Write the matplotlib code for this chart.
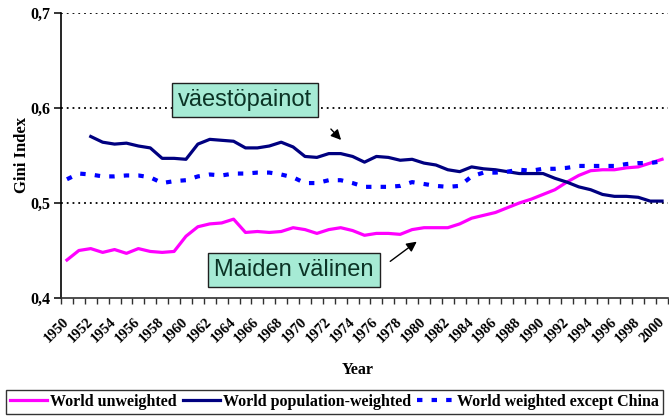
import numpy as np
import matplotlib
matplotlib.use("Agg")
import matplotlib.pyplot as plt

years = list(range(1950, 2001))

unweighted = [0.440, 0.450, 0.452, 0.448, 0.451, 0.447, 0.452, 0.449, 0.448, 0.449,
              0.465, 0.475, 0.478, 0.479, 0.483, 0.469, 0.470, 0.469, 0.470, 0.474,
              0.472, 0.468, 0.472, 0.474, 0.471, 0.466, 0.468, 0.468, 0.467, 0.472,
              0.474, 0.474, 0.474, 0.478, 0.484, 0.487, 0.490, 0.495, 0.500, 0.504,
              0.509, 0.514, 0.522, 0.529, 0.534, 0.535, 0.535, 0.537, 0.538, 0.542,
              0.546]

pop_weighted = [np.nan, np.nan, 0.570, 0.564, 0.562, 0.563, 0.560, 0.558, 0.547, 0.547,
                0.546, 0.562, 0.567, 0.566, 0.565, 0.558, 0.558, 0.560, 0.564, 0.559,
                0.549, 0.548, 0.552, 0.552, 0.549, 0.543, 0.549, 0.548, 0.545, 0.546,
                0.542, 0.540, 0.535, 0.533, 0.538, 0.536, 0.535, 0.533, 0.531, 0.531,
                0.531, 0.526, 0.522, 0.517, 0.514, 0.509, 0.507, 0.507, 0.506, 0.502,
                0.502]

except_china = [0.525, 0.531, 0.530, 0.528, 0.528, 0.529, 0.529, 0.527, 0.521, 0.523,
                0.524, 0.528, 0.530, 0.529, 0.531, 0.531, 0.532, 0.532, 0.530, 0.527,
                0.521, 0.521, 0.524, 0.524, 0.521, 0.517, 0.517, 0.517, 0.518, 0.522,
                0.520, 0.518, 0.517, 0.518, 0.528, 0.532, 0.532, 0.533, 0.535, 0.534,
                0.536, 0.536, 0.537, 0.539, 0.539, 0.539, 0.539, 0.541, 0.542, 0.542,
                0.544]

series_names = ["World unweighted", "World population-weighted", "World weighted except China"]
yticks = [0.4, 0.5, 0.6, 0.7]
ytick_labels = ["0,4", "0,5", "0,6", "0,7"]

serif = "Liberation Serif"

fig = plt.figure(figsize=(6.69, 4.16), dpi=100)
ax = fig.add_axes([61/669, 1 - 298/416, (668 - 61)/669, (298 - 13)/416])

x = np.arange(len(years))
l1, = ax.plot(x, unweighted, color="#FF00FF", lw=2.3, solid_joinstyle="round")
l2, = ax.plot(x, pop_weighted, color="#000080", lw=2.3, solid_joinstyle="round")
l3, = ax.plot(x, except_china, color="#0000FF", lw=3.0, dashes=(1.3, 2.2))

ax.set_xlim(-0.5, len(years) - 0.5)
ax.set_ylim(0.4, 0.7)

for yv in yticks[1:]:
    ax.axhline(yv, color="black", lw=1.3, ls=(0, (1, 2.2)), zorder=0.5)

ax.spines["top"].set_visible(False)
ax.spines["right"].set_visible(False)
ax.spines["left"].set_color("black")
ax.spines["bottom"].set_color("#303030")
ax.spines["left"].set_linewidth(1.2)
ax.spines["bottom"].set_linewidth(1.2)

ax.set_yticks(yticks)
ax.set_yticklabels(ytick_labels, fontfamily=serif, fontweight="bold", fontsize=11.5)
ax.tick_params(axis="y", direction="out", length=5, width=1.1, pad=3)

ax.set_xticks(x[::2])
ax.set_xticklabels([str(y) for y in years[::2]], rotation=45, ha="right", va="center",
                   rotation_mode="anchor", fontfamily=serif, fontweight="bold", fontsize=10.5)
ax.tick_params(axis="x", which="major", length=0, pad=16)
ax.set_xticks(np.arange(-0.5, len(years), 1), minor=True)
ax.tick_params(axis="x", which="minor", direction="out", length=4, width=1, color="#303030")

fig.text(22/669, 1 - 155/416, "Gini Index", rotation=90, ha="center", va="center",
         fontfamily=serif, fontweight="bold", fontsize=12)
fig.text(358/669, 1 - 370/416, "Year", ha="center", va="center",
         fontfamily=serif, fontweight="bold", fontsize=11.5)

box_kw = dict(boxstyle="square,pad=0.25", facecolor="#A6EBD5", edgecolor="#202020", lw=1.0)
fig.text(245/669, 1 - 100/416, "väestöpainot", ha="center", va="center",
         fontfamily="Liberation Sans", fontsize=17, color="#0B3325", bbox=box_kw)
fig.text(294/669, 1 - 270/416, "Maiden välinen", ha="center", va="center",
         fontfamily="Liberation Sans", fontsize=17, color="#0B3325", bbox=box_kw)

arrow_kw = dict(arrowstyle="-|>,head_length=0.6,head_width=0.3", color="black", lw=1.0)
ax.annotate("", xy=(343/669, 1 - 142/416), xytext=(329/669, 1 - 127/416),
            xycoords="figure fraction", textcoords="figure fraction", arrowprops=arrow_kw)
ax.annotate("", xy=(419/669, 1 - 240/416), xytext=(388/669, 1 - 263/416),
            xycoords="figure fraction", textcoords="figure fraction", arrowprops=arrow_kw)

leg = fig.legend([l1, l2, l3], series_names, loc="lower center",
                 bbox_to_anchor=(0.5, 0.0), borderaxespad=0.15,
                 ncol=3, frameon=True, fancybox=False, handlelength=2.3, handletextpad=0.2,
                 columnspacing=0.4, borderpad=0.25,
                 prop=dict(family=serif, weight="bold", size=11.5))
leg.get_frame().set_edgecolor("black")
leg.get_frame().set_linewidth(1.0)

fig.savefig("out.png", dpi=100)
